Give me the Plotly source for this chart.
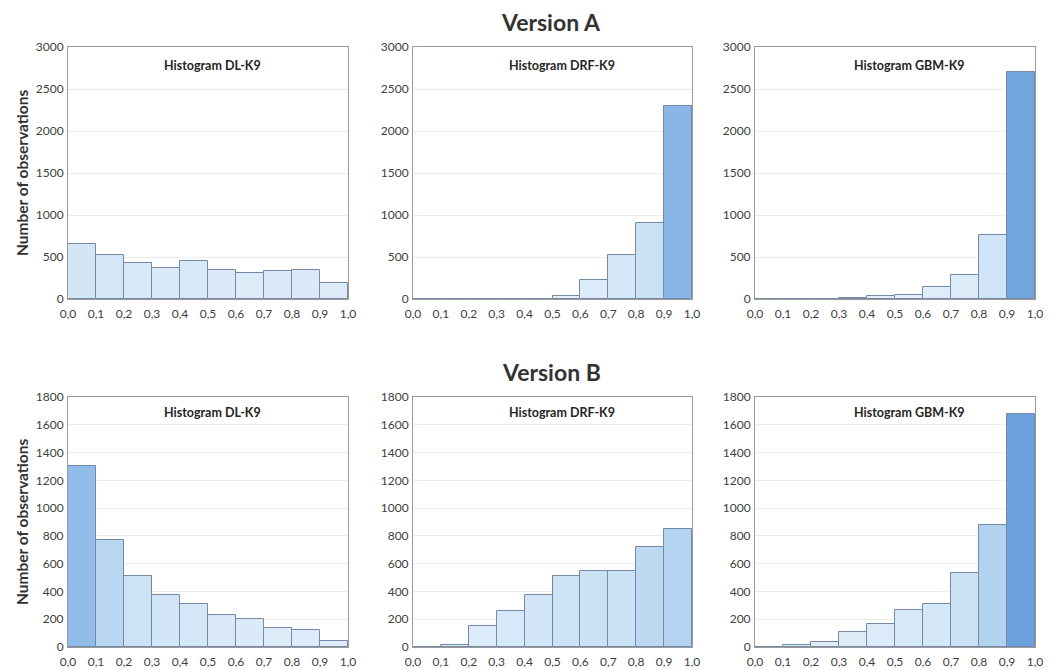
import plotly.graph_objects as go
from plotly.subplots import make_subplots

# ---- data ----
bin_edges = [0.0, 0.1, 0.2, 0.3, 0.4, 0.5, 0.6, 0.7, 0.8, 0.9, 1.0]
tick_labels = ["0,0", "0,1", "0,2", "0,3", "0,4", "0,5", "0,6", "0,7", "0,8", "0,9", "1,0"]

models = ["DL-K9", "DRF-K9", "GBM-K9"]
versions = ["Version A", "Version B"]

a_dl = [650, 520, 430, 370, 455, 340, 310, 330, 345, 190]
a_drf = [0, 0, 0, 0, 4, 30, 230, 520, 900, 2300]
a_gbm = [0, 0, 0, 10, 30, 50, 140, 290, 760, 2700]

b_dl = [1300, 770, 510, 375, 310, 230, 200, 135, 120, 40]
b_drf = [0, 15, 150, 260, 375, 510, 545, 545, 720, 850]
b_gbm = [2, 14, 35, 110, 165, 265, 310, 530, 875, 1675]

y_max = [3000, 1800]
y_step = [500, 200]

# ---- figure ----
# the page body has an 8px margin, so the figure origin sits at (8, 8) in the window
OFF = 8
W, H = 1051 - OFF, 670 - OFF
series = [[a_dl, a_drf, a_gbm], [b_dl, b_drf, b_gbm]]

fig = make_subplots(rows=2, cols=3)

centers = [(bin_edges[i] + bin_edges[i + 1]) / 2 for i in range(len(bin_edges) - 1)]
widths = [bin_edges[i + 1] - bin_edges[i] for i in range(len(bin_edges) - 1)]

colorscale = [[0.0, "#e3effa"], [0.3, "#cbe2f5"], [0.65, "#9cc5ec"], [1.0, "#5f98d9"]]

# window-pixel layout of the plot areas
x_px = [(68, 348), (413, 692), (755, 1035)]
y_px = [(47, 299), (397, 647)]
title_x = [0.515, 0.535, 0.55]
title_y = [0.925, 0.937]


def px_x(v):
    return (v - OFF) / W


def px_y(v):
    return 1 - (v - OFF) / H


font_fam = "Lato, 'Open Sans', sans-serif"

for r in range(2):
    for c in range(3):
        vals = series[r][c]
        fig.add_trace(
            go.Bar(
                x=centers,
                y=vals,
                width=widths,
                marker=dict(
                    color=vals,
                    colorscale=colorscale,
                    cmin=0,
                    cmax=y_max[r],
                    line=dict(color="#7589a6", width=1),
                ),
                showlegend=False,
                hoverinfo="x+y",
            ),
            row=r + 1,
            col=c + 1,
        )
        idx = r * 3 + c + 1
        xa = "xaxis" if idx == 1 else f"xaxis{idx}"
        ya = "yaxis" if idx == 1 else f"yaxis{idx}"
        x0, x1 = x_px[c]
        y0, y1 = y_px[r]
        fig.layout[xa].update(
            domain=[px_x(x0), px_x(x1)],
            range=[0, 1],
            tickvals=bin_edges,
            ticktext=tick_labels,
            showgrid=False,
            zeroline=False,
            showline=True,
            linecolor="#9a9a9a",
            linewidth=1,
            mirror=True,
            ticks="",
            automargin=False,
            ticklabelstandoff=4,
            tickfont=dict(size=12, color="#404040", family=font_fam),
        )
        fig.layout[ya].update(
            domain=[px_y(y1), px_y(y0)],
            range=[0, y_max[r]],
            dtick=y_step[r],
            tick0=0,
            showgrid=True,
            gridcolor="#ececec",
            gridwidth=1,
            zeroline=False,
            showline=True,
            linecolor="#9a9a9a",
            linewidth=1,
            mirror=True,
            ticks="",
            automargin=False,
            ticklabelstandoff=1,
            tickfont=dict(size=12, color="#404040", family=font_fam),
        )
        xref = "x" if idx == 1 else f"x{idx}"
        yref = "y" if idx == 1 else f"y{idx}"
        fig.add_annotation(
            text=f"<b>Histogram {models[c]}</b>",
            xref=f"{xref} domain",
            yref=f"{yref} domain",
            x=title_x[c],
            y=title_y[r],
            xanchor="center",
            yanchor="middle",
            showarrow=False,
            font=dict(size=12.5, color="#262626", family=font_fam),
        )

# version titles and y-axis labels
for r, ty in enumerate([22, 372]):
    fig.add_annotation(
        text=f"<b>{versions[r]}</b>",
        xref="paper",
        yref="paper",
        x=px_x(551),
        y=px_y(ty),
        xanchor="center",
        yanchor="middle",
        showarrow=False,
        font=dict(size=23, color="#333333", family=font_fam),
    )
    yc = (y_px[r][0] + y_px[r][1]) / 2
    fig.add_annotation(
        text="<b>Number of observations</b>",
        xref="paper",
        yref="paper",
        x=px_x(22),
        y=px_y(yc),
        xanchor="center",
        yanchor="middle",
        textangle=-90,
        showarrow=False,
        font=dict(size=15.5, color="#333333", family=font_fam),
    )

fig.update_layout(
    width=W,
    height=H,
    margin=dict(l=0, r=0, t=0, b=0),
    paper_bgcolor="white",
    plot_bgcolor="white",
    bargap=0,
)

fig.write_html("out.html")
